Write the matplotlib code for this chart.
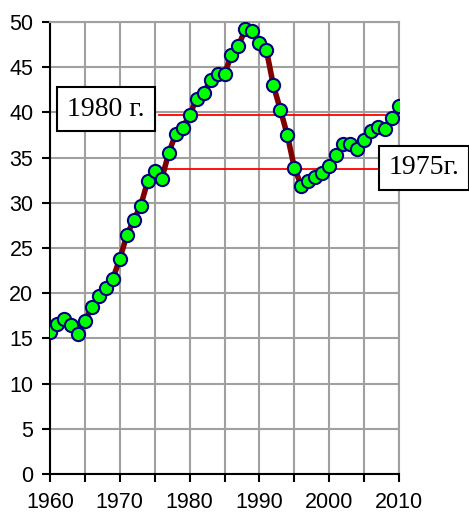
import matplotlib
matplotlib.use("Agg")
import matplotlib.pyplot as plt
from matplotlib.ticker import MultipleLocator

plt.rcParams["font.family"] = ["Liberation Sans", "DejaVu Sans"]

years = list(range(1960, 2011))
values = [15.7, 16.6, 17.2, 16.5, 15.5, 16.9, 18.5, 19.7, 20.6, 21.6,
          23.8, 26.4, 28.1, 29.7, 32.4, 33.5, 32.6, 35.5, 37.6, 38.3,
          39.7, 41.5, 42.1, 43.6, 44.3, 44.3, 46.3, 47.4, 49.2, 49.0,
          47.7, 46.9, 43.0, 40.3, 37.5, 33.9, 31.9, 32.4, 32.8, 33.3,
          34.1, 35.3, 36.5, 36.5, 36.0, 37.0, 37.9, 38.4, 38.2, 39.4,
          40.7]

# horizontal reference levels
level_labels = ["1980 г.", "1975г."]
level_values = [39.7, 33.7]
level_spans = [(1975.6, 2008.1), (1975.8, 2007.5)]

fig = plt.figure(figsize=(4.69, 5.15), dpi=100)
ax = fig.add_axes([50 / 469, 1 - 474 / 515, 349 / 469, 452 / 515])

ax.set_xlim(1960, 2010)
ax.set_ylim(0, 50)
ax.xaxis.set_major_locator(MultipleLocator(10))
ax.xaxis.set_minor_locator(MultipleLocator(5))
ax.yaxis.set_major_locator(MultipleLocator(5))
ax.grid(True, which="both", color="#a0a0a0", linewidth=1.5, zorder=0)
ax.set_axisbelow(True)

for s in ["top", "right"]:
    ax.spines[s].set_color("#a0a0a0")
    ax.spines[s].set_linewidth(1.5)
for s in ["left", "bottom"]:
    ax.spines[s].set_color("black")
    ax.spines[s].set_linewidth(1.5)

ax.tick_params(which="both", direction="out", length=6, width=1.5, color="black",
               labelsize=15.5)
ax.tick_params(axis="x", which="major", pad=7)
ax.tick_params(axis="y", which="major", pad=6)

for (x0, x1), v in zip(level_spans, level_values):
    ax.plot([x0, x1], [v, v], color="red", linewidth=1.3, zorder=2)

ax.plot(years, values, color="#800000", linewidth=4, zorder=3,
        solid_joinstyle="round")
ax.plot(years, values, linestyle="none", marker="o", markersize=9.5,
        markerfacecolor="#00ff00", markeredgecolor="#000080",
        markeredgewidth=1.5, zorder=4)

box = dict(boxstyle="square,pad=0.35", facecolor="white", edgecolor="black", linewidth=1.5)
fig.text(106 / 469, 1 - 109 / 515, level_labels[0], family="Liberation Serif",
         fontsize=20, ha="center", va="center", bbox=box, zorder=5)
fig.text(424 / 469, 1 - 168 / 515, level_labels[1], family="Liberation Serif",
         fontsize=20, ha="center", va="center", bbox=box, zorder=5)

fig.savefig("out.png", dpi=100)
